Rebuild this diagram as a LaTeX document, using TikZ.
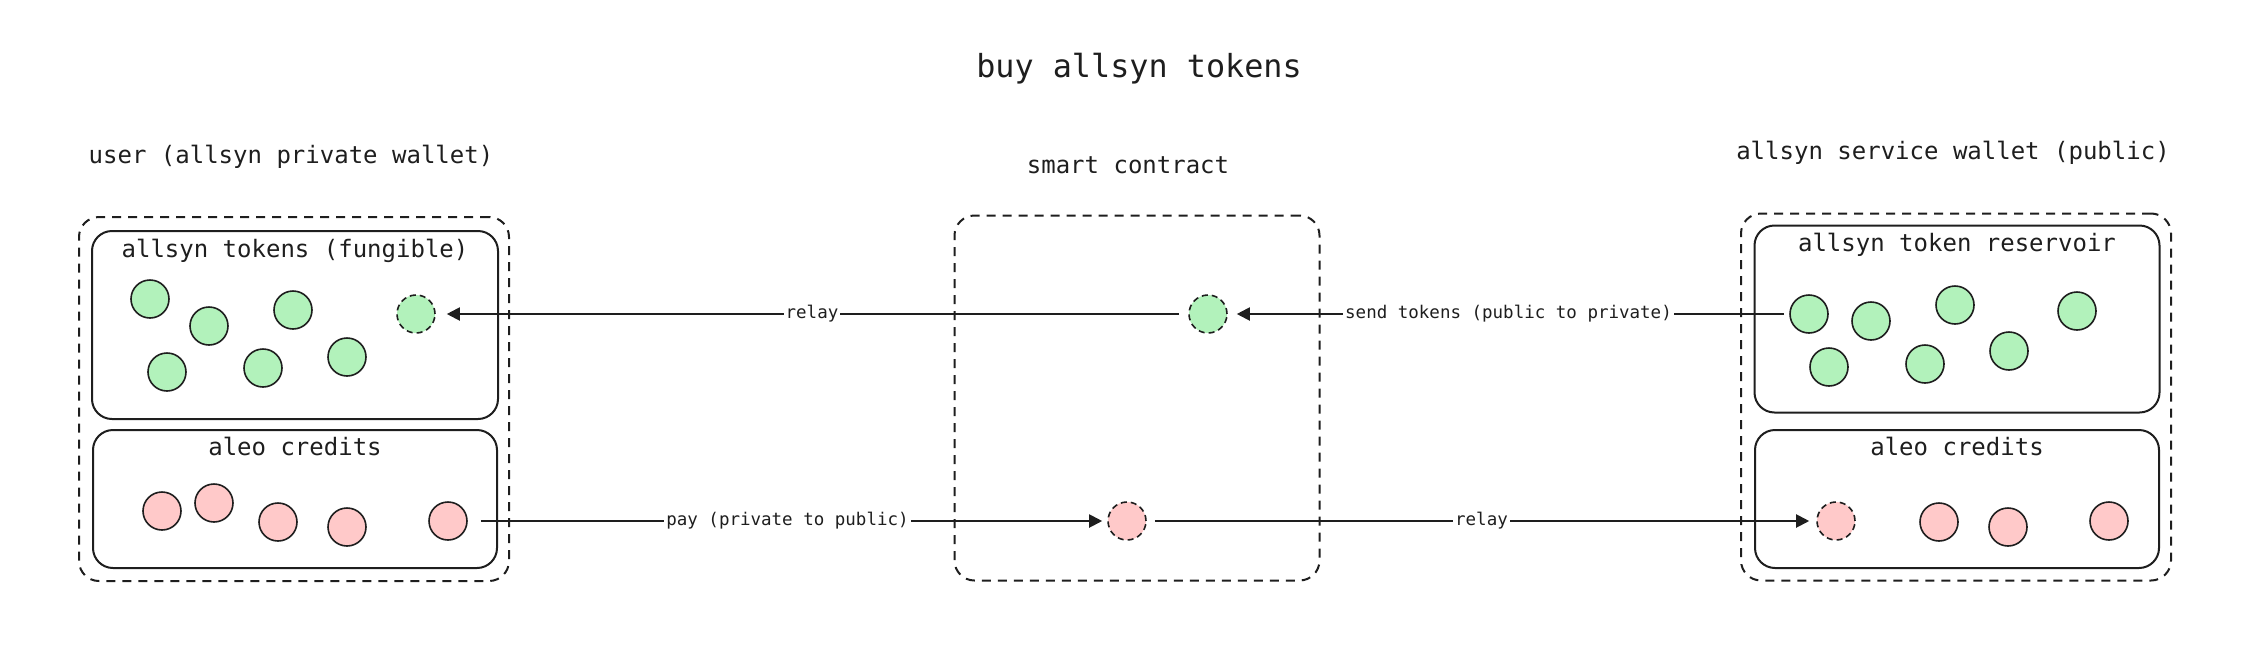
\documentclass[tikz,border=0pt]{standalone}
\usepackage{fontspec}
\setmonofont{DejaVu Sans Mono}
\usetikzlibrary{positioning,arrows.meta}
\definecolor{ink}{HTML}{1E1E1E}
\definecolor{tokgreen}{HTML}{B2F2BB}
\definecolor{credpink}{HTML}{FFC9C9}

\begin{document}
\begin{tikzpicture}[x=1pt, y=-1pt, line width=2pt, ink,
    walletbox/.style={rectangle, draw=ink, dash pattern=on 9pt off 7pt, rounded corners=20pt, inner sep=0pt},
    pursebox/.style={rectangle, draw=ink, rounded corners=20pt, inner sep=0pt},
    heading/.style={font=\ttfamily\fontsize{24}{28}\selectfont, text=ink},
    token/.style={circle, draw=ink, fill=tokgreen, line width=1.6pt, minimum size=38pt, inner sep=0pt},
    credit/.style={token, fill=credpink},
    pending/.style={dash pattern=on 6pt off 4pt},
    flow/.style={draw=ink, -{Triangle[length=13pt,width=13pt]}, shorten >=7pt, shorten <=8pt},
    flowlabel/.style={fill=white, font=\ttfamily\fontsize{17.5}{20}\selectfont, text=ink, inner sep=2pt}]

    \useasboundingbox (0,0) rectangle (2262,662);

    % titles
    \node[heading, font=\ttfamily\fontsize{31.8}{36}\selectfont] (title) at (1139,69) {buy allsyn tokens};
    \node[heading] (userlbl) at (291,157) {user (allsyn private wallet)};
    \node[heading] (contractlbl) at (1128,165) {smart contract};
    \node[heading] (servicelbl) at (1953,153) {allsyn service wallet (public)};

    % wallets
    \node[walletbox, minimum width=430pt, minimum height=364pt] (userwallet) at (294,399) {};
    \node[walletbox, minimum width=365pt, minimum height=365pt] (contract) at (1137,398) {};
    \node[walletbox, minimum width=430pt, minimum height=367pt] (servicewallet) at (1956,397) {};

    \node[pursebox, minimum width=406pt, minimum height=188pt] (usertokens) at (295,325) {};
    \node[pursebox, minimum width=404pt, minimum height=138pt] (usercredits) at (295,499) {};
    \node[pursebox, minimum width=405pt, minimum height=187pt] (reservoir) at (1957,319) {};
    \node[pursebox, minimum width=404pt, minimum height=138pt] (servicecredits) at (1957,499) {};

    \node[heading] (usertokenslbl) [below=5pt of usertokens.north] {allsyn tokens (fungible)};
    \node[heading] (usercreditslbl) [below=4pt of usercredits.north] {aleo credits};
    \node[heading] (reservoirlbl) [below=4pt of reservoir.north] {allsyn token reservoir};
    \node[heading] (servicecreditslbl) [below=4pt of servicecredits.north] {aleo credits};

    % tokens and credits
    \foreach \p [count=\i] in {(150,299),(209,326),(293,310),(167,372),(263,368),(347,357)}
        \node[token] (u\i) at \p {};
    \node[token, pending] (unew) at (416,314) {};
    \foreach \p [count=\i] in {(162,511),(214,503),(278,522),(347,527)}
        \node[credit] (uc\i) at \p {};
    \node[credit] (upay) at (448,521) {};

    \node[token, pending] (tokc) at (1208,314) {};
    \node[credit, pending] (credc) at (1127,521) {};

    \node[token] (r1) at (1809,314) {};
    \foreach \p [count=\i from 2] in {(1871,321),(1955,305),(2077,311),(1829,367),(1925,364),(2009,351)}
        \node[token] (r\i) at \p {};
    \node[credit, pending] (snew) at (1836,521) {};
    \foreach \p [count=\i] in {(1939,522),(2008,527),(2109,521)}
        \node[credit] (sc\i) at \p {};

    % flows
    \draw[flow, shorten <=5pt, shorten >=9pt] (r1) -- node[flowlabel] {send tokens (public to private)} (tokc);
    \draw[flow, shorten <=9pt, shorten >=11pt] (tokc) -- node[flowlabel] {relay} (unew);
    \draw[flow, shorten <=13pt, shorten >=5pt] (upay) -- node[flowlabel] {pay (private to public)} (credc);
    \draw[flow] (credc) -- node[flowlabel] {relay} (snew);

\end{tikzpicture}
\end{document}
